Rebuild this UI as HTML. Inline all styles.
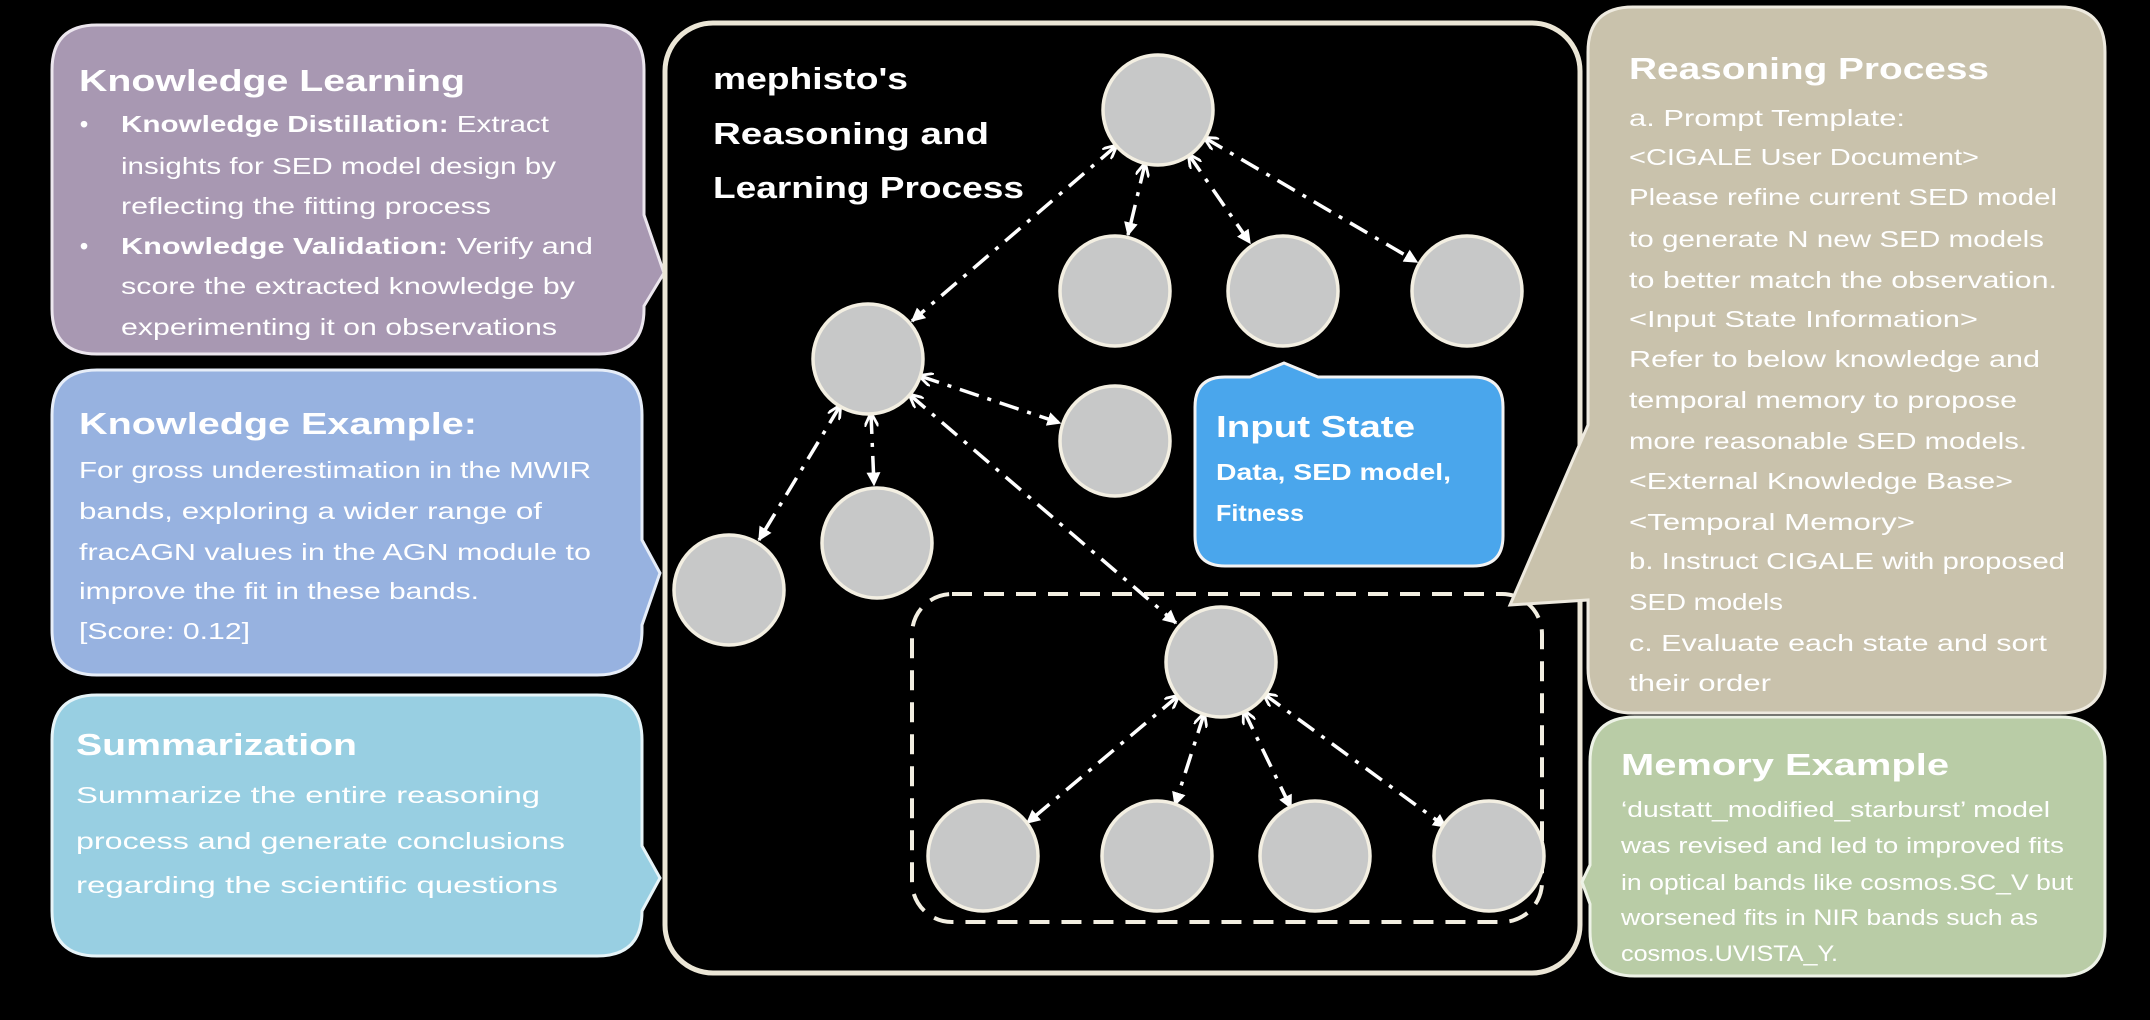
<!DOCTYPE html>
<html><head><meta charset="utf-8"><style>
html,body{margin:0;padding:0;background:#000;}
svg{display:block;}
text{font-family:"Liberation Sans",sans-serif;fill:#fff;}
.h{font-weight:bold;font-size:31px;}
.b{font-size:23px;font-weight:bold;}
.n{font-size:23px;}
.m{font-size:22px;}
.e{stroke:#fff;stroke-width:3.5;stroke-dasharray:20 9 4 9;fill:none;marker-end:url(#ar);marker-start:url(#ar2);}
.c{fill:#c7c8c8;stroke:#f3efe2;stroke-width:3.5;}
</style></head><body>
<svg width="2150" height="1020" viewBox="0 0 2150 1020" xmlns="http://www.w3.org/2000/svg">
<defs>
<marker id="ar" viewBox="0 0 10 10" refX="9" refY="5" markerWidth="4" markerHeight="4" orient="auto" markerUnits="strokeWidth"><path d="M0,0 L10,5 L0,10 Z" fill="#fff"/></marker>
<marker id="ar2" viewBox="0 0 10 10" refX="1" refY="5" markerWidth="4" markerHeight="4" orient="auto" markerUnits="strokeWidth"><path d="M10,0 L0,5 L10,10" fill="none" stroke="#fff" stroke-width="2"/></marker>
</defs>
<rect width="2150" height="1020" fill="#000"/>

<!-- Left callouts -->
<path d="M97,25 H599 Q644,25 644,70 V215 L664,273 L644,306 V309 Q644,354 599,354 H97 Q52,354 52,309 V70 Q52,25 97,25 Z" fill="#a898b2" stroke="#ece6ee" stroke-width="3"/>
<path d="M97,370 H597 Q642,370 642,415 V540 L660,573 L642,625 V630 Q642,675 597,675 H97 Q52,675 52,630 V415 Q52,370 97,370 Z" fill="#97b2e0" stroke="#e6edf8" stroke-width="3"/>
<path d="M97,695 H597 Q642,695 642,740 V846 L660,878 L642,911 V911 Q642,956 597,956 H97 Q52,956 52,911 V740 Q52,695 97,695 Z" fill="#98cfe2" stroke="#e6f4f8" stroke-width="3"/>

<text class="h" x="79" y="91" textLength="386" lengthAdjust="spacingAndGlyphs">Knowledge Learning</text>
<text class="b" x="80" y="132">•</text>
<text class="b" x="121" y="132" textLength="428" lengthAdjust="spacingAndGlyphs">Knowledge Distillation: <tspan font-weight="normal">Extract</tspan></text>
<text class="n" x="121" y="174" textLength="435" lengthAdjust="spacingAndGlyphs">insights for SED model design by</text>
<text class="n" x="121" y="214" textLength="370" lengthAdjust="spacingAndGlyphs">reflecting the fitting process</text>
<text class="b" x="80" y="254">•</text>
<text class="b" x="121" y="254" textLength="472" lengthAdjust="spacingAndGlyphs">Knowledge Validation: <tspan font-weight="normal">Verify and</tspan></text>
<text class="n" x="121" y="294" textLength="454" lengthAdjust="spacingAndGlyphs">score the extracted knowledge by</text>
<text class="n" x="121" y="335" textLength="436" lengthAdjust="spacingAndGlyphs">experimenting it on observations</text>

<text class="h" x="79" y="434" textLength="398" lengthAdjust="spacingAndGlyphs">Knowledge Example:</text>
<text class="n" x="79" y="478" textLength="512" lengthAdjust="spacingAndGlyphs">For gross underestimation in the MWIR</text>
<text class="n" x="79" y="519" textLength="463" lengthAdjust="spacingAndGlyphs">bands, exploring a wider range of</text>
<text class="n" x="79" y="560" textLength="512" lengthAdjust="spacingAndGlyphs">fracAGN values in the AGN module to</text>
<text class="n" x="79" y="599" textLength="400" lengthAdjust="spacingAndGlyphs">improve the fit in these bands.</text>
<text class="n" x="79" y="639" textLength="171" lengthAdjust="spacingAndGlyphs">[Score: 0.12]</text>

<text class="h" x="76" y="755" textLength="281" lengthAdjust="spacingAndGlyphs">Summarization</text>
<text class="n" x="76" y="803" textLength="464" lengthAdjust="spacingAndGlyphs">Summarize the entire reasoning</text>
<text class="n" x="76" y="849" textLength="489" lengthAdjust="spacingAndGlyphs">process and generate conclusions</text>
<text class="n" x="76" y="893" textLength="482" lengthAdjust="spacingAndGlyphs">regarding the scientific questions</text>

<!-- Main box -->
<rect x="665" y="23" width="915" height="950" rx="48" fill="#000" stroke="#ebe6d6" stroke-width="5"/>
<text class="h" x="713" y="89" textLength="195" lengthAdjust="spacingAndGlyphs">mephisto's</text>
<text class="h" x="713" y="144" textLength="276" lengthAdjust="spacingAndGlyphs">Reasoning and</text>
<text class="h" x="713" y="198" textLength="311" lengthAdjust="spacingAndGlyphs">Learning Process</text>

<rect x="912" y="594" width="630" height="328" rx="40" fill="none" stroke="#f3efe2" stroke-width="4" stroke-dasharray="20 12"/>

<!-- edges -->
<line class="e" x1="1116" y1="146" x2="912" y2="321"/>
<line class="e" x1="1145" y1="164" x2="1128" y2="235"/>
<line class="e" x1="1189" y1="155" x2="1250" y2="243"/>
<line class="e" x1="1205" y1="138" x2="1417" y2="262"/>
<line class="e" x1="920" y1="376" x2="1060" y2="423"/>
<line class="e" x1="871" y1="414" x2="874" y2="485"/>
<line class="e" x1="840" y1="406" x2="759" y2="540"/>
<line class="e" x1="910" y1="395" x2="1176" y2="623"/>
<line class="e" x1="1178" y1="696" x2="1027" y2="823"/>
<line class="e" x1="1204" y1="714" x2="1175" y2="805"/>
<line class="e" x1="1244" y1="711" x2="1291" y2="808"/>
<line class="e" x1="1264" y1="694" x2="1446" y2="827"/>

<!-- nodes -->
<circle class="c" cx="1158" cy="110" r="55"/>
<circle class="c" cx="868" cy="359" r="55"/>
<circle class="c" cx="1115" cy="291" r="55"/>
<circle class="c" cx="1283" cy="291" r="55"/>
<circle class="c" cx="1467" cy="291" r="55"/>
<circle class="c" cx="1115" cy="441" r="55"/>
<circle class="c" cx="877" cy="543" r="55"/>
<circle class="c" cx="729" cy="590" r="55"/>
<circle class="c" cx="1221" cy="662" r="55"/>
<circle class="c" cx="983" cy="856" r="55"/>
<circle class="c" cx="1157" cy="856" r="55"/>
<circle class="c" cx="1315" cy="856" r="55"/>
<circle class="c" cx="1489" cy="856" r="55"/>

<!-- Input state -->
<path d="M1225,377 H1250 L1284,363 L1318,377 H1473 Q1503,377 1503,407 V536 Q1503,566 1473,566 H1225 Q1195,566 1195,536 V407 Q1195,377 1225,377 Z" fill="#4aa6ec" stroke="#f3f3f3" stroke-width="3"/>
<text class="h" x="1216" y="437" textLength="199" lengthAdjust="spacingAndGlyphs">Input State</text>
<text class="b" x="1216" y="480" textLength="235" lengthAdjust="spacingAndGlyphs">Data, SED model,</text>
<text class="b" x="1216" y="521" textLength="88" lengthAdjust="spacingAndGlyphs">Fitness</text>

<!-- Reasoning process -->
<path d="M1633,7 H2060 Q2105,7 2105,52 V668 Q2105,713 2060,713 H1633 Q1588,713 1588,668 V600 L1510,605 L1588,425 V52 Q1588,7 1633,7 Z" fill="#c9c2ac" stroke="#eeeadf" stroke-width="3"/>
<text class="h" x="1629" y="79" textLength="360" lengthAdjust="spacingAndGlyphs">Reasoning Process</text>
<g class="n">
<text class="n" x="1629" y="126" textLength="276" lengthAdjust="spacingAndGlyphs">a.  Prompt Template:</text>
<text class="n" x="1629" y="165" textLength="350" lengthAdjust="spacingAndGlyphs">&lt;CIGALE User Document&gt;</text>
<text class="n" x="1629" y="205" textLength="428" lengthAdjust="spacingAndGlyphs">Please refine current SED model</text>
<text class="n" x="1629" y="247" textLength="415" lengthAdjust="spacingAndGlyphs">to generate N new SED models</text>
<text class="n" x="1629" y="288" textLength="428" lengthAdjust="spacingAndGlyphs">to better match the observation.</text>
<text class="n" x="1629" y="327" textLength="349" lengthAdjust="spacingAndGlyphs">&lt;Input State Information&gt;</text>
<text class="n" x="1629" y="367" textLength="411" lengthAdjust="spacingAndGlyphs">Refer to below knowledge and</text>
<text class="n" x="1629" y="408" textLength="388" lengthAdjust="spacingAndGlyphs">temporal memory to propose</text>
<text class="n" x="1629" y="449" textLength="398" lengthAdjust="spacingAndGlyphs">more reasonable SED models.</text>
<text class="n" x="1629" y="489" textLength="384" lengthAdjust="spacingAndGlyphs">&lt;External Knowledge Base&gt;</text>
<text class="n" x="1629" y="530" textLength="286" lengthAdjust="spacingAndGlyphs">&lt;Temporal Memory&gt;</text>
<text class="n" x="1629" y="569" textLength="436" lengthAdjust="spacingAndGlyphs">b. Instruct CIGALE with proposed</text>
<text class="n" x="1629" y="610" textLength="154" lengthAdjust="spacingAndGlyphs">SED models</text>
<text class="n" x="1629" y="651" textLength="418" lengthAdjust="spacingAndGlyphs">c.  Evaluate each state and sort</text>
<text class="n" x="1629" y="691" textLength="142" lengthAdjust="spacingAndGlyphs">their order</text>
</g>

<!-- Memory example -->
<path d="M1635,717 H2060 Q2105,717 2105,762 V931 Q2105,976 2060,976 H1635 Q1590,976 1590,931 V904 L1582,882 L1590,865 V762 Q1590,717 1635,717 Z" fill="#b9cca6" stroke="#edf2e6" stroke-width="3"/>
<text class="h" x="1621" y="775" textLength="328" lengthAdjust="spacingAndGlyphs">Memory Example</text>
<text class="m" x="1621" y="817" textLength="429" lengthAdjust="spacingAndGlyphs">‘dustatt_modified_starburst’ model</text>
<text class="m" x="1621" y="853" textLength="443" lengthAdjust="spacingAndGlyphs">was revised and  led to improved fits</text>
<text class="m" x="1621" y="890" textLength="452" lengthAdjust="spacingAndGlyphs">in optical bands like cosmos.SC_V but</text>
<text class="m" x="1621" y="925" textLength="417" lengthAdjust="spacingAndGlyphs">worsened fits in NIR bands such as</text>
<text class="m" x="1621" y="961" textLength="217" lengthAdjust="spacingAndGlyphs">cosmos.UVISTA_Y.</text>
</svg>
</body></html>
